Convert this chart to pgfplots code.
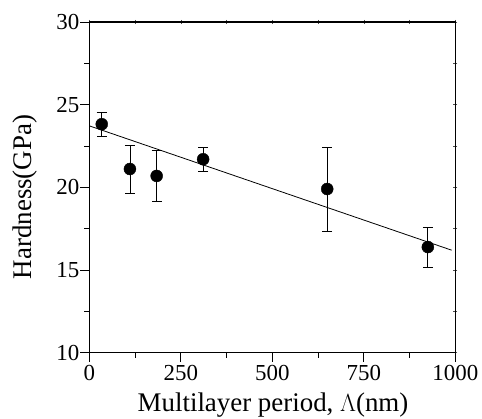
\documentclass[border=0pt]{standalone}
\usepackage{fontspec}
\setmainfont{Liberation Serif}
\usepackage{pgfplots}
\pgfplotsset{compat=1.18}

\begin{document}
\begin{tikzpicture}
% mirror ticks on top and right, short
\begin{axis}[
  scale only axis,
  width=366bp, height=330.7bp,
  xmin=0, xmax=1000, ymin=10, ymax=30,
  xtick={0,250,500,750,1000},
  ytick={10,15,20,25,30},
  minor x tick num=1, minor y tick num=1,
  xtick pos=right, ytick pos=right,
  tick align=center,
  major tick length=4bp, minor tick length=4bp,
  every tick/.style={black!70, line width=0.6pt},
  xticklabels={}, yticklabels={},
  axis line style={draw=none},
]
\end{axis}
\begin{axis}[
  scale only axis,
  width=366bp, height=330.7bp,
  xmin=0, xmax=1000, ymin=10, ymax=30,
  xtick={0,250,500,750,1000},
  ytick={10,15,20,25,30},
  minor x tick num=1, minor y tick num=1,
  tick align=outside,
  tick pos=left,
  major tick length=9bp, minor tick length=5bp,
  axis line style={line width=1.3pt},
  every tick/.style={black, line width=0.9pt},
  ticklabel style={font=\fontsize{23}{27}\selectfont},
  yticklabel style={xshift=2.5bp},
  /pgf/number format/assume math mode=true,
  /pgf/number format/1000 sep={},
  xlabel={Multilayer period, $\Lambda$(nm)},
  ylabel={Hardness(GPa)},
  xlabel style={font=\fontsize{27}{31}\selectfont,
    at={(axis description cs:0.502,-0.1793)}, anchor=base},
  ylabel style={font=\fontsize{27}{31}\selectfont,
    at={(axis description cs:-0.1757,0.471)}, anchor=center},
  clip=false,
]
  % linear fit
  \addplot[black, line width=0.8pt, no marks]
    coordinates {(0,23.72) (990,16.20)};
  % data with error bars
  \addplot[
    only marks, mark=*, mark size=6bp, black,
    error bars/.cd, y dir=both, y explicit,
    error bar style={line width=0.8pt},
    error mark options={rotate=90, mark size=5bp, line width=0.8pt},
  ] coordinates {
    (34,23.82)  +- (0,0.71)
    (111,21.11) +- (0,1.45)
    (184,20.69) +- (0,1.52)
    (311,21.70) +- (0,0.72)
    (650,19.90) +- (0,2.54)
    (925,16.39) +- (0,1.21)
  };
\end{axis}
\pgfresetboundingbox
\path ([shift={(-89.3bp,-66.3bp)}]current axis.south west)
  rectangle ([shift={(26.7bp,22bp)}]current axis.north east);
\end{tikzpicture}
\end{document}
